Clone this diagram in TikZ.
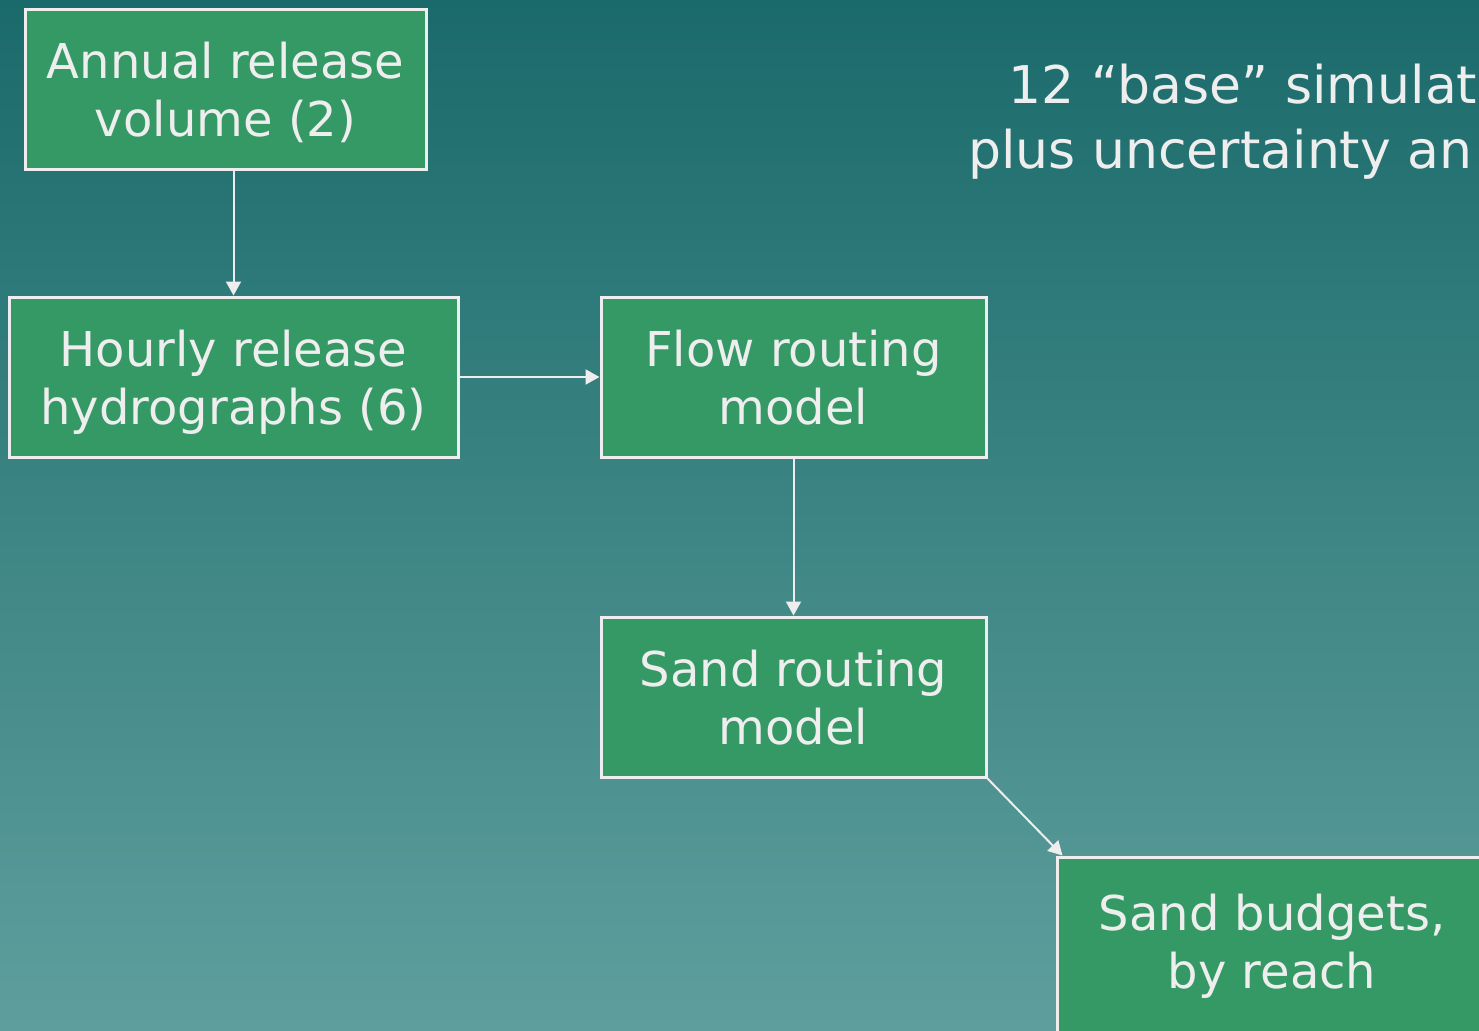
\documentclass[tikz,border=0pt]{standalone}
\usepackage{fontspec}
\setmainfont{DejaVu Sans}
\usetikzlibrary{arrows.meta}

\definecolor{bgtop}{HTML}{1B6A6B}
\definecolor{bgbot}{HTML}{5E9F9D}
\definecolor{boxgreen}{HTML}{359966}
\definecolor{ink}{HTML}{EEEEEE}

% strut for the first line of a box
\newcommand\hi[1][26.5pt]{\rule{0pt}{#1}}

\begin{document}
\begin{tikzpicture}[x=0.5pt,y=-0.5pt,
    stepbox/.style={draw=ink,line width=1.5pt,fill=boxgreen,text=ink,
      align=center,inner sep=0pt,minimum height=80pt,
      font=\fontsize{24}{29}\selectfont,
      execute at end node={\rule[-8pt]{0pt}{0pt}}},
    flow/.style={draw=ink,line width=1pt,-{Triangle[length=7pt,width=7.5pt]}},
    note/.style={text=ink,anchor=base west,inner sep=0pt,
      font=\fontsize{26}{33}\selectfont}]
  \shade[top color=bgtop,bottom color=bgbot] (0,0) rectangle (1479,1030);
  \useasboundingbox (0,0) rectangle (1479,1030);
  \clip (0,0) rectangle (1479,1030);

  % boxes
  \node[stepbox,minimum width=200.5pt] (ann) at (225.5,89) {\hi Annual release\\volume (2)};
  \node[stepbox,minimum width=224.5pt] (hour) at (233.5,377) {\hi Hourly release\\hydrographs (6)};
  \node[stepbox,minimum width=192.5pt] (flow) at (793.5,377) {\hi Flow routing\\model};
  \node[stepbox,minimum width=192.5pt] (sand) at (793.5,697) {\hi Sand routing\\model};
  \node[stepbox,minimum width=215pt,minimum height=90pt] (bud) at (1272,947) {\hi[20.5pt]Sand budgets,\\by reach};

  % text at top right
  \node[note] (sim) at (1008,103) {12 “base” simulat};
  \node[note] (unc) at (968,168) {plus uncertainty an};

  % connectors
  \coordinate (tip) at ([xshift=3.5pt]bud.north west);
  \draw[flow] (ann.south -| hour.north) -- (hour.north);
  \draw[flow] (hour) -- (flow);
  \draw[flow] (flow) -- (sand);
  \draw[flow] (sand.south east) -- (tip);
\end{tikzpicture}
\end{document}
